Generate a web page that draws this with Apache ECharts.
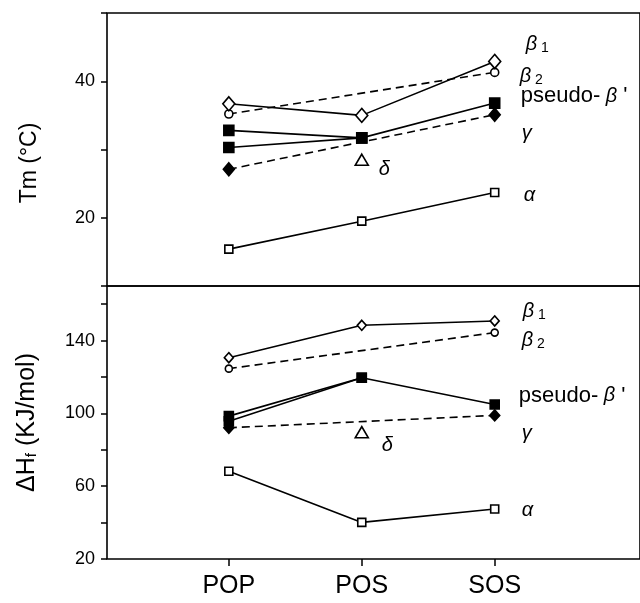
<!DOCTYPE html>
<html>
<head>
<meta charset="utf-8">
<script src="https://cdn.jsdelivr.net/npm/echarts@6/dist/echarts.min.js"></script>
<style>
  html, body { margin: 0; padding: 0; background: #fff; }
  #main { width: 640px; height: 603px; }
</style>
</head>
<body>
<div id="main"></div>
<script>
// 数据：三种甘油三酯
const categories = ['POP', 'POS', 'SOS'];

// Tm (°C)
const tmBeta1 = [36.7, 35.0, 42.9];
const tmBeta2 = [35.2, null, 41.3];
const tmPseudo = [32.8, 31.7, 36.8];
const tmPseudo2 = [30.3, 31.7, null];
const tmGamma = [27.1, null, 35.1];
const tmDelta = [null, 28.5, null];
const tmAlpha = [15.4, 19.5, 23.7];

// ΔHf (KJ/mol)
const dhBeta1 = [130.6, 148.4, 150.8];
const dhBeta2 = [124.6, null, 144.4];
const dhPseudo = [98.5, 119.6, 104.9];
const dhPseudo2 = [95.7, 119.6, null];
const dhGamma = [92.1, null, 98.9];
const dhDelta = [null, 89.7, null];
const dhAlpha = [68.2, 40.1, 47.5];

const FONT = '"Liberation Sans", Arial, sans-serif';

const rich = {
	g: { fontFamily: FONT, fontStyle: 'italic', fontSize: 20, color: '#000' },
	s: { fontFamily: FONT, fontSize: 14, color: '#000', padding: [8, 0, 0, 0] },
	t: { fontFamily: FONT, fontSize: 22, color: '#000' }
};

const labelText = {
	beta1: '{g|β}{s| 1}',
	beta2: '{g|β}{s| 2}',
	pseudo: '{t|pseudo-}{g| β}{t| \'}',
	gamma: '{g|γ}',
	delta: '{g|δ}',
	alpha: '{g|α}'
};

/** 各种标记样式 */
const marks = {
	openDiamond: { symbol: 'diamond', fill: '#fff' },
	openCircle: { symbol: 'circle', fill: '#fff' },
	square: { symbol: 'rect', fill: '#000' },
	diamond: { symbol: 'diamond', fill: '#000' },
	triangle: { symbol: 'triangle', fill: '#fff' },
	openSquare: { symbol: 'rect', fill: '#fff' }
};

/** 生成一条折线（只在最后一点加标签） */
function makeSeries(values, panel, mark, size, dashed, label, offset, scatter) {
	const pts = [];
	values.forEach((v, i) => { if (v !== null) pts.push([i + 1, v]); });
	const data = pts.map((p, k) => {
		if (label && k === pts.length - 1) {
			return {
				value: p,
				label: {
					show: true, position: 'inside', align: 'left', verticalAlign: 'middle',
					offset: offset, formatter: labelText[label], rich: rich, color: '#000'
				}
			};
		}
		return p;
	});
	return {
		type: scatter ? 'scatter' : 'line',
		xAxisIndex: panel, yAxisIndex: panel,
		data: data,
		symbol: marks[mark].symbol,
		symbolSize: size,
		showSymbol: true,
		animation: false,
		itemStyle: { color: marks[mark].fill, borderColor: '#000', borderWidth: 1.6, opacity: 1 },
		lineStyle: { color: '#000', width: 1.6, type: dashed ? [8, 5] : 'solid' },
		emphasis: { disabled: true },
		z: 3
	};
}

const series = [
	// 上图 Tm
	makeSeries(tmBeta2, 0, 'openCircle', 8, true, 'beta2', [25, 4]),
	makeSeries(tmGamma, 0, 'diamond', [11, 13], true, 'gamma', [27, 19]),
	makeSeries(tmPseudo2, 0, 'square', 10, false, null),
	makeSeries(tmPseudo, 0, 'square', 10, false, 'pseudo', [26, -7]),
	makeSeries(tmBeta1, 0, 'openDiamond', [12, 14], false, 'beta1', [31, -17]),
	makeSeries(tmDelta, 0, 'triangle', [13, 11], false, 'delta', [17, 10], true),
	makeSeries(tmAlpha, 0, 'openSquare', 8, false, 'alpha', [29, 3]),
	// 下图 ΔHf
	makeSeries(dhBeta2, 1, 'openCircle', 7, true, 'beta2', [27, 8]),
	makeSeries(dhGamma, 1, 'diamond', [10, 11], true, 'gamma', [27, 18]),
	makeSeries(dhPseudo2, 1, 'square', 9, false, null),
	makeSeries(dhPseudo, 1, 'square', 9, false, 'pseudo', [24, -9]),
	makeSeries(dhBeta1, 1, 'openDiamond', [9, 10], false, 'beta1', [28, -10]),
	makeSeries(dhDelta, 1, 'triangle', [13, 11], false, 'delta', [20, 13], true),
	makeSeries(dhAlpha, 1, 'openSquare', 8, false, 'alpha', [27, 1])
];

const xMin = 0.0835, xMax = 4.093;

function xAxis(panel, withLabels) {
	return {
		type: 'value', gridIndex: panel, min: xMin, max: xMax,
		axisLine: { show: false },
		splitLine: { show: false },
		axisTick: {
			show: withLabels, customValues: [1, 2, 3], length: 7, inside: false,
			lineStyle: { color: '#000', width: 1.5 }
		},
		axisLabel: {
			show: withLabels, customValues: [1, 2, 3], margin: 15,
			formatter: v => categories[Math.round(v) - 1] || '',
			fontFamily: FONT, fontSize: 25, color: '#000'
		}
	};
}

function yAxis(panel, min, max, interval, shown, name, gap, nameStyle) {
	return {
		type: 'value', gridIndex: panel, min: min, max: max, interval: interval,
		axisLine: { show: false },
		splitLine: { show: false },
		axisTick: { show: true, length: 6, lineStyle: { color: '#000', width: 1.5 } },
		axisLabel: {
			margin: 12, fontFamily: FONT, fontSize: 18, color: '#000',
			formatter: v => (shown.indexOf(v) >= 0 ? String(v) : '')
		},
		name: name,
		nameLocation: 'middle',
		nameGap: gap,
		nameTextStyle: nameStyle
	};
}

const chart = echarts.init(document.getElementById('main'));
chart.setOption({
	backgroundColor: '#fff',
	animation: false,
	grid: [
		{ left: 107, top: 13, right: -5, height: 273, show: true, borderColor: '#000', borderWidth: 1.6, backgroundColor: 'transparent' },
		{ left: 107, top: 286, right: -5, height: 273, show: true, borderColor: '#000', borderWidth: 1.6, backgroundColor: 'transparent' }
	],
	xAxis: [xAxis(0, false), xAxis(1, true)],
	yAxis: [
		yAxis(0, 10, 50, 10, [20, 40], 'Tm (°C)', 66,
			{ fontFamily: FONT, fontSize: 23, color: '#000', padding: [0, 27, 0, 0] }),
		yAxis(1, 20, 170, 20, [20, 60, 100, 140], '{a|ΔH}{f|f}{a| (KJ/mol)}', 67,
			{
				fontFamily: FONT, fontSize: 25, color: '#000',
				rich: {
					a: { fontFamily: FONT, fontSize: 25, color: '#000' },
					f: { fontFamily: FONT, fontSize: 15, color: '#000', padding: [9, 0, 0, 0] }
				}
			})
	],
	series: series
});
</script>
</body>
</html>
